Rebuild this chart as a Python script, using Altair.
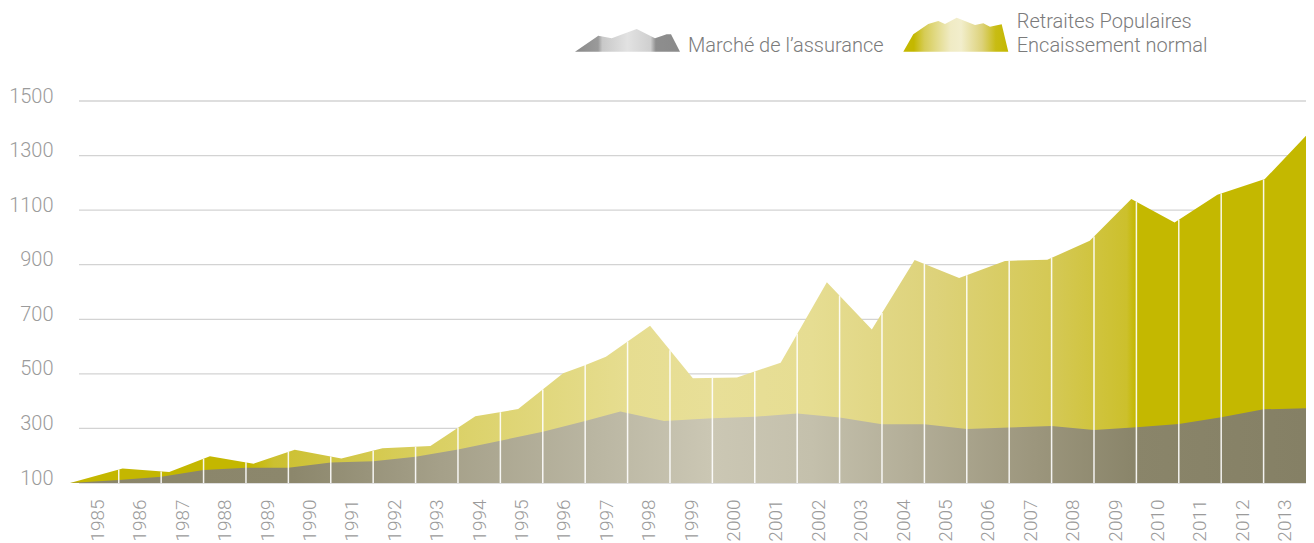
import altair as alt
import pandas as pd
import numpy as np

# ---------------- data ----------------
years = list(range(1985, 2014))
y_ticks = [100, 300, 500, 700, 900, 1100, 1300, 1500]
baseline = 100

# Retraites Populaires (upper, yellow) - vertex positions (in year units) and values
rp_pos = [1984.35, 1985.59, 1986.69, 1987.65, 1988.68, 1989.65, 1990.75, 1991.72,
          1992.85, 1993.91, 1994.48, 1994.92, 1995.98, 1996.45, 1996.99, 1998.03,
          1999.04, 2000.08, 2001.11, 2002.20, 2003.26, 2004.27, 2005.32, 2006.40,
          2007.40, 2008.40, 2009.38, 2010.40, 2011.41, 2012.53, 2013.50]
rp_val = [100, 153, 140, 198, 171, 222, 190, 227,
          236, 345, 359, 371, 502, 529, 563, 676,
          484, 487, 541, 836, 663, 917, 851, 914,
          918, 988, 1141, 1055, 1156, 1214, 1373]

# Marché de l'assurance (lower, grey)
market_pos = [1984.35, 1985.5, 1986.5, 1987.5, 1988.5, 1989.5, 1990.5, 1991.5,
              1992.5, 1993.5, 1994.5, 1995.5, 1996.5, 1997.33, 1998.36, 1999.5,
              2000.5, 2001.5, 2002.5, 2003.5, 2004.5, 2005.5, 2006.5, 2007.5,
              2008.5, 2009.5, 2010.5, 2011.5, 2012.5, 2013.5]
market_val = [100, 111, 123, 148, 156, 156, 175, 180,
              196, 223, 255, 288, 327, 362, 327, 337,
              343, 355, 340, 315, 315, 298, 303, 309,
              294, 304, 316, 341, 370, 374]

legend_market = "Marché de l’assurance"
legend_rp = ["Retraites Populaires", "Encaissement normal"]

# ---------------- derived helpers ----------------
divider_pos = [y + 0.5 for y in range(1985, 2013)]
divider_top = np.interp(divider_pos, rp_pos, rp_val)

rp_df = pd.DataFrame({"t": rp_pos, "v": rp_val})
mk_df = pd.DataFrame({"t": market_pos, "v": market_val})
div_df = pd.DataFrame({"t": divider_pos, "v": divider_top})
grid_df = pd.DataFrame({"v": y_ticks})
one = pd.DataFrame({"k": [0]})

W, H = 1236, 382
FONT = "Roboto"
xscale = alt.Scale(domain=[1984.35, 2013.5], nice=False, zero=False)
yscale = alt.Scale(domain=[100, 1500], nice=False, zero=False)

xaxis = alt.Axis(values=years, format="d", labelAngle=-90, grid=False, domain=False,
                 ticks=False, tickSize=0, labelPadding=16, title=None, labelFontSize=19,
                 labelColor="#9b9b9b", labelFont=FONT, labelFontWeight=300,
                 labelOverlap=False, labelFlush=False)
yaxis = alt.Axis(values=y_ticks, format="d", grid=False, domain=False, ticks=False,
                 tickSize=0, labelPadding=17, title=None, labelFontSize=20,
                 labelColor="#9b9b9b", labelFont=FONT, labelFontWeight=300,
                 labelBaseline="alphabetic", labelOffset=1)


def X(f):
    return alt.X(f, type="quantitative", scale=xscale, axis=xaxis)


def Y(f):
    return alt.Y(f, type="quantitative", scale=yscale, axis=yaxis)


def grad(stops):
    return alt.Gradient(gradient="linear", x1=0, x2=1, y1=0, y2=0,
                        stops=[alt.GradientStop(offset=o, color=c) for o, c in stops])


yellow_grad = grad([(0.0, "#c4b700"), (0.145, "#c4b700"), (0.165, "#ccc030"),
                    (0.3, "#dad064"), (0.45, "#e6dd90"), (0.52, "#e8df98"),
                    (0.6, "#e6dd92"), (0.7, "#ddd27a"), (0.8, "#d4c852"),
                    (0.855, "#ccc02c"), (0.862, "#c4b800"), (1.0, "#c4b800")])
grey_grad = grad([(0.0, "#8a856a"), (0.18, "#8c876c"), (0.3, "#a5a089"),
                  (0.42, "#b9b5a1"), (0.52, "#cbc7b4"), (0.6, "#c4c0ac"),
                  (0.68, "#b3ae98"), (0.78, "#9c967d"), (0.86, "#8a856a"),
                  (1.0, "#858065")])

gridlines = alt.Chart(grid_df).mark_rule(color="#d3d3d3", strokeWidth=1.3).encode(
    y=Y("v"), x=alt.value(9), x2=alt.value(W))

rp_area = alt.Chart(rp_df).mark_area(interpolate="linear", color=yellow_grad).encode(
    x=X("t"), y=Y("v"), y2=alt.datum(baseline))

mk_area = alt.Chart(mk_df).mark_area(interpolate="linear", color=grey_grad).encode(
    x=X("t"), y=Y("v"), y2=alt.datum(baseline))

dividers = alt.Chart(div_df).mark_rule(color="white", strokeWidth=1.5, opacity=0.9).encode(
    x=X("t"), y=Y("v"), y2=alt.datum(baseline))

# ---------------- custom legend ----------------
grey_icon_path = ("M-1,0.216L-0.556,-0.089L-0.301,-0.039L0.175,-0.216L0.524,-0.039"
                  "L0.747,-0.115L0.829,-0.115L1,0.216Z")
yellow_icon_path = ("M-1,0.324L-0.81,-0.008L-0.524,-0.204L-0.333,-0.261L-0.206,-0.204"
                    "L0.017,-0.324L0.366,-0.185L0.524,-0.217L0.651,-0.152L0.874,-0.198"
                    "L1,0.324Z")
grey_icon_grad = grad([(0.0, "#8a8a8a"), (0.22, "#9a9a9a"), (0.26, "#c8c8c8"),
                       (0.5, "#e2e2e2"), (0.72, "#cfcfcf"), (0.77, "#8e8e8e"),
                       (1.0, "#8a8a8a")])
yellow_icon_grad = grad([(0.0, "#c4b800"), (0.1, "#c4b800"), (0.2, "#d6cc55"),
                         (0.45, "#f0ebc4"), (0.55, "#f2eecc"), (0.75, "#ddd27a"),
                         (0.88, "#c8bc14"), (1.0, "#c4b800")])

grey_icon = alt.Chart(one).mark_point(shape=grey_icon_path, size=105 ** 2, filled=True,
                                      fill=grey_icon_grad, strokeWidth=0, opacity=1).encode(
    x=alt.value(557.5), y=alt.value(-60.65))
yellow_icon = alt.Chart(one).mark_point(shape=yellow_icon_path, size=105 ** 2, filled=True,
                                        fill=yellow_icon_grad, strokeWidth=0, opacity=1).encode(
    x=alt.value(885.8), y=alt.value(-66.3))

txt = dict(align="left", baseline="alphabetic", font=FONT, fontSize=20, fontWeight=300,
           color="#7b7b7b")
t_market = alt.Chart(one).mark_text(**txt).encode(
    x=alt.value(618), y=alt.value(-49.3), text=alt.value(legend_market))
t_rp1 = alt.Chart(one).mark_text(**txt).encode(
    x=alt.value(946.7), y=alt.value(-73.3), text=alt.value(legend_rp[0]))
t_rp2 = alt.Chart(one).mark_text(**txt).encode(
    x=alt.value(946.7), y=alt.value(-49.3), text=alt.value(legend_rp[1]))

chart = alt.layer(
    gridlines, rp_area, mk_area, dividers, grey_icon, yellow_icon, t_market, t_rp1, t_rp2
).properties(
    width=W, height=H,
    padding={"left": 62, "top": 93, "right": 0, "bottom": 64},
    autosize=alt.AutoSizeParams(type="none"),
).configure_view(stroke=None)

chart.save("out.html", embed_options={"renderer": "svg", "actions": False})
